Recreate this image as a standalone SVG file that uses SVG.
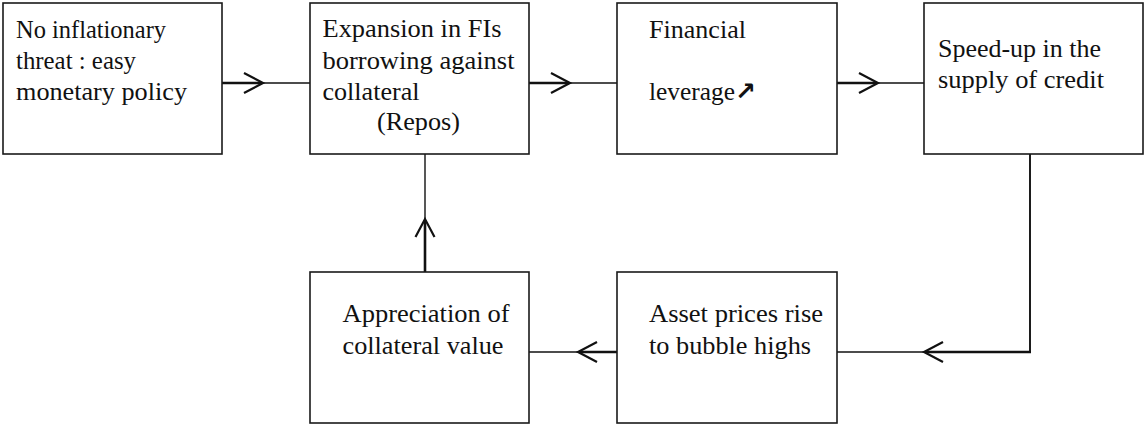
<svg xmlns="http://www.w3.org/2000/svg" width="1144" height="425" viewBox="0 0 1144 425">
<style>
.box{fill:#fff;stroke:#1a1a1a;stroke-width:1.6}
.t{font-family:"Liberation Serif","Times New Roman",serif;font-size:26px;fill:#111}
.sym{font-family:"DejaVu Sans",sans-serif;font-weight:bold;font-size:25px}
.thin{fill:none;stroke:#111;stroke-width:1.4}
.thick{fill:none;stroke:#111;stroke-width:2.6}
.mid{fill:none;stroke:#111;stroke-width:1.9}
.head{fill:none;stroke:#111;stroke-width:2.2;stroke-linejoin:miter}
</style>
<rect width="1144" height="425" fill="#fff"/>
<g id="connectors">
  <line class="thin" x1="222" y1="83" x2="310" y2="83"/>
  <line class="thick" x1="222" y1="83" x2="262" y2="83"/>
  <polyline class="head" points="244,73 263,83 244,93"/>
  <line class="thin" x1="529" y1="83" x2="617" y2="83"/>
  <line class="thick" x1="529" y1="83" x2="569" y2="83"/>
  <polyline class="head" points="551,73 570,83 551,93"/>
  <line class="thin" x1="837" y1="83" x2="924" y2="83"/>
  <line class="thick" x1="837" y1="83" x2="877" y2="83"/>
  <polyline class="head" points="859,73 878,83 859,93"/>
  <line class="mid" x1="1030" y1="154" x2="1030" y2="352"/>
  <line class="thin" x1="924" y1="352" x2="837" y2="352"/>
  <line class="thick" x1="1031" y1="352" x2="925" y2="352"/>
  <polyline class="head" points="943,342 924,352 943,362"/>
  <line class="thin" x1="617" y1="352" x2="529" y2="352"/>
  <line class="thick" x1="617" y1="352" x2="579" y2="352"/>
  <polyline class="head" points="597,342 578,352 597,362"/>
  <line class="thin" x1="425" y1="219" x2="425" y2="154"/>
  <line class="thick" x1="425" y1="272" x2="425" y2="220"/>
  <polyline class="head" points="415.5,237 425,219 434.5,237"/>
</g>
<g id="n1">
  <rect class="box" x="3" y="3" width="219" height="151"/>
  <text class="t" x="16" y="37.5" textLength="150" lengthAdjust="spacingAndGlyphs">No inflationary</text>
  <text class="t" x="16" y="69" textLength="120" lengthAdjust="spacingAndGlyphs">threat : easy</text>
  <text class="t" x="16" y="100" textLength="171" lengthAdjust="spacingAndGlyphs">monetary policy</text>
</g>
<g id="n2">
  <rect class="box" x="310" y="3" width="219" height="151"/>
  <text class="t" x="322.5" y="37" textLength="179" lengthAdjust="spacingAndGlyphs">Expansion in FIs</text>
  <text class="t" x="322.5" y="68.5" textLength="192" lengthAdjust="spacingAndGlyphs">borrowing against</text>
  <text class="t" x="322.5" y="100" textLength="97" lengthAdjust="spacingAndGlyphs">collateral</text>
  <text class="t" x="377" y="129.5" textLength="83" lengthAdjust="spacingAndGlyphs">(Repos)</text>
</g>
<g id="n3">
  <rect class="box" x="617" y="3" width="220" height="151"/>
  <text class="t" x="649" y="37.5" textLength="97" lengthAdjust="spacingAndGlyphs">Financial</text>
  <text class="t" x="649" y="100" textLength="86" lengthAdjust="spacingAndGlyphs">leverage</text>
  <text class="t sym" x="735" y="99.5">↗</text>
</g>
<g id="n4">
  <rect class="box" x="924" y="3" width="219" height="151"/>
  <text class="t" x="938" y="56.5" textLength="163" lengthAdjust="spacingAndGlyphs">Speed-up in the</text>
  <text class="t" x="938" y="87.5" textLength="166" lengthAdjust="spacingAndGlyphs">supply of credit</text>
</g>
<g id="n5">
  <rect class="box" x="617" y="272" width="220" height="151"/>
  <text class="t" x="649" y="322" textLength="174" lengthAdjust="spacingAndGlyphs">Asset prices rise</text>
  <text class="t" x="649" y="353.5" textLength="162" lengthAdjust="spacingAndGlyphs">to bubble highs</text>
</g>
<g id="n6">
  <rect class="box" x="310" y="272" width="219" height="151"/>
  <text class="t" x="342.5" y="322" textLength="167" lengthAdjust="spacingAndGlyphs">Appreciation of</text>
  <text class="t" x="342.5" y="353.5" textLength="161" lengthAdjust="spacingAndGlyphs">collateral value</text>
</g>
</svg>
